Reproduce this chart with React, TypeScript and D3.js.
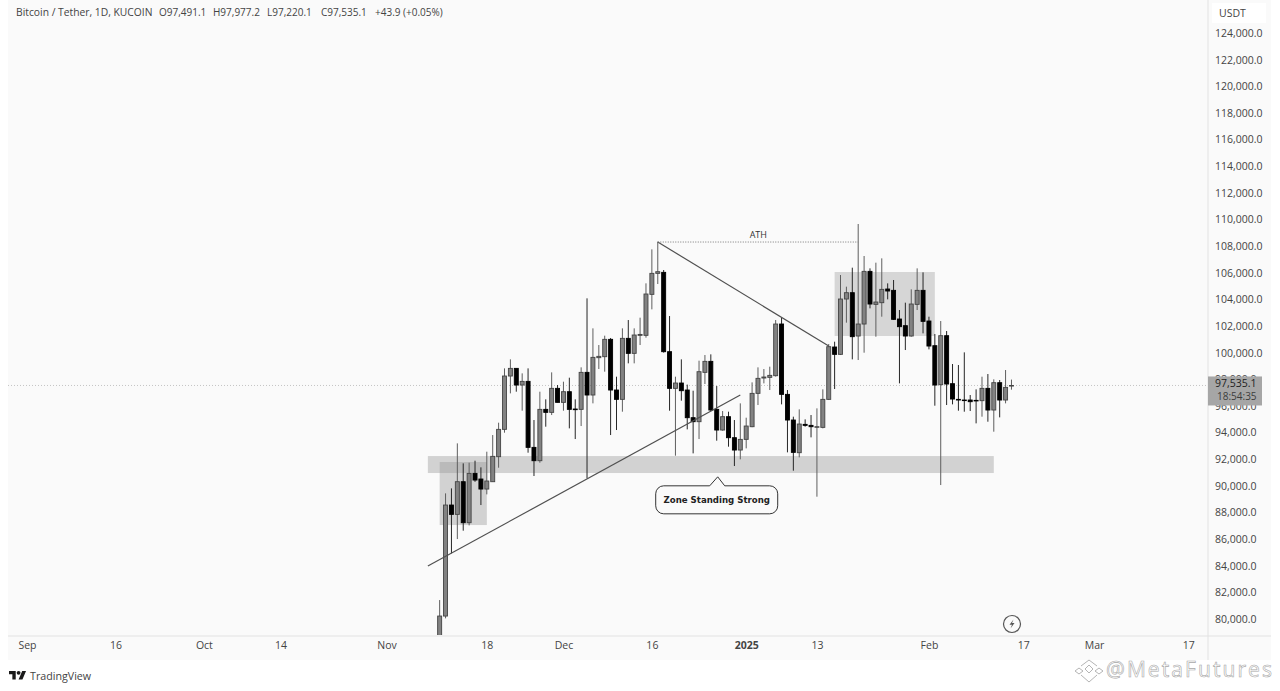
import * as d3 from "d3";
import React, { useEffect, useRef } from "react";

// daily candles, Nov 10 2024 -> Feb 15 2025
const firstCandle = new Date(Date.UTC(2024, 10, 10));
const opens = [
  77200, 80222, 88557, 87856, 90309, 87230, 90935, 90510, 89758, 90309, 92187, 94239, 98244, 98819, 97568, 97843,
  92887, 91886, 95741, 95516, 97318, 96266, 97067, 95766, 95741, 98520, 96818, 99621, 99696, 100998, 97193, 96492,
  101073, 99946, 101298, 101298, 104376, 105953, 106028, 100071, 97318, 97718, 97193, 95115, 94815, 98519, 99345,
  95741, 94189, 95191, 93613, 92687, 93488, 94439, 96942, 98094, 98144, 98269, 102149, 96867, 94940, 92487, 94614,
  94539, 94414, 94389, 96492, 100422, 99871, 104026, 104501, 101248, 102149, 106103, 103625, 103750, 104777, 104677,
  102524, 102024, 101248, 103625, 104677, 102374, 100521, 97593, 101272, 97668, 96492, 96442, 96442, 96417, 96392,
  97318, 95691, 97743, 96442, 97491,
];
const highs = [
  81423, 89433, 89808, 93188, 91686, 91736, 91886, 91386, 92562, 93813, 94740, 98819, 99495, 98819, 98444, 98819,
  94940, 97067, 96492, 98519, 97568, 97818, 98119, 96492, 98895, 104077, 101824, 100572, 101273, 101100, 98194,
  101824, 102449, 101824, 102625, 105203, 107755, 108331, 106204, 102749, 98194, 99496, 97600, 97142, 99395, 99821,
  99871, 97493, 95616, 95566, 94940, 96192, 95115, 97768, 98895, 98769, 98945, 102449, 102624, 97193, 95191, 95741,
  94990, 95316, 95816, 97243, 100647, 100822, 105828, 104952, 106379, 109658, 107255, 106329, 106754, 107079, 105202,
  105453, 103200, 103751, 104752, 106329, 106028, 102699, 101398, 102374, 101623, 99145, 99070, 100021, 96817, 97243,
  98194, 98394, 97994, 97944, 98694, 97977,
];
const lows = [
  76900, 80047, 84928, 86004, 86630, 87030, 90300, 88557, 89358, 90300, 91360, 93989, 96942, 97067, 95641, 92487,
  90735, 91736, 94439, 95315, 96266, 95641, 94314, 93513, 94489, 90560, 96192, 98770, 98570, 93813, 94189, 95566,
  99196, 99196, 100572, 101123, 103250, 105152, 100000, 95641, 92262, 96392, 94239, 92437, 93513, 97643, 95600, 93388,
  94139, 92938, 91486, 91987, 92812, 94400, 96066, 97693, 97193, 98200, 96116, 92512, 91135, 92137, 94439, 93638,
  89183, 94314, 96442, 97268, 99821, 102249, 99495, 99445, 99996, 103325, 101197, 102699, 104001, 102450, 97693,
  100196, 101197, 103200, 101448, 100246, 96016, 90059, 96066, 96116, 95641, 95566, 95616, 94689, 95191, 94814, 94064,
  95140, 96192, 97220,
];
const closes = [
  80222, 88557, 87856, 90309, 87230, 90935, 90434, 89758, 90360, 92212, 94239, 98244, 98819, 97568, 97843, 92887,
  91886, 95741, 95516, 97318, 96266, 97067, 95741, 95716, 98519, 96818, 99646, 99721, 100998, 97193, 96492, 101073,
  99946, 101323, 101368, 104402, 105953, 106078, 100071, 97318, 97718, 97142, 95115, 94815, 98569, 99345, 95691,
  94189, 95191, 93613, 92687, 93488, 94489, 96942, 98069, 98169, 98294, 102149, 96867, 94940, 92512, 94639, 94539,
  94439, 94439, 96492, 100447, 99871, 104026, 104501, 101198, 102149, 106103, 103650, 103800, 104752, 104627, 102499,
  101949, 101248, 103650, 104677, 102349, 100496, 97568, 101272, 97643, 96517, 96442, 96417, 96316, 96392, 97318,
  95691, 97743, 96442, 97393, 97535,
];

const priceTicks = d3.range(80000, 124001, 2000);
const timeTicks = [
  [2024, 8, 1, "Sep"], [2024, 8, 16, "16"], [2024, 9, 1, "Oct"], [2024, 9, 14, "14"], [2024, 10, 1, "Nov"],
  [2024, 10, 18, "18"], [2024, 11, 1, "Dec"], [2024, 11, 16, "16"], [2025, 0, 1, "2025"], [2025, 0, 13, "13"],
  [2025, 1, 1, "Feb"], [2025, 1, 17, "17"], [2025, 2, 1, "Mar"], [2025, 2, 17, "17"],
] as [number, number, number, string][];

const lastPrice = 97535.1;
const headerLabels = ["Bitcoin / Tether, 1D, KUCOIN", "O97,491.1", "H97,977.2", "L97,220.1", "C97,535.1", "+43.9 (+0.05%)"];

const FONT = "'Open Sans', 'DejaVu Sans', sans-serif";
const day = (y: number, m: number, d: number) => new Date(Date.UTC(y, m, d));

const App = () => {
  const svgRef = useRef<SVGSVGElement>(null);

  useEffect(() => {
    const svg = d3.select(svgRef.current);
    svg.selectAll("*").remove();

    const x = d3.scaleUtc().domain([day(2024, 8, 1), day(2025, 2, 1)]).range([27, 1094]);
    const y = d3.scaleLinear().domain([80000, 124000]).range([619, 33]);

    // panels
    svg.append("rect").attr("width", 1280).attr("height", 691).attr("fill", "#ffffff");
    svg.append("rect").attr("x", 8).attr("y", 0).attr("width", 1263).attr("height", 660).attr("fill", "#fafafa");

    svg.append("defs").append("clipPath").attr("id", "plot")
      .append("rect").attr("x", 8).attr("y", 0).attr("width", 1200).attr("height", 635);

    const plot = svg.append("g").attr("clip-path", "url(#plot)");

    // last price line
    plot.append("line")
      .attr("x1", 8).attr("x2", 1208)
      .attr("y1", y(lastPrice)).attr("y2", y(lastPrice))
      .attr("stroke", "#c4c4c4").attr("stroke-dasharray", "1 2");

    // zones
    const zones: [Date, Date, number, number, string][] = [
      [day(2024, 10, 8), day(2025, 1, 12), 92234, 90960, "#d2d2d2"],
      [day(2024, 10, 10), day(2024, 10, 18), 91786, 87056, "rgba(150,150,150,0.4)"],
      [day(2025, 0, 16), day(2025, 1, 2), 106054, 101248, "#d6d6d6"],
    ];
    zones.forEach(([a, b, top, bottom, fill]) => {
      plot.append("rect")
        .attr("x", x(a)).attr("width", x(b) - x(a))
        .attr("y", y(top)).attr("height", y(bottom) - y(top))
        .attr("fill", fill);
    });

    // candles
    const candles = opens.map((o, i) => ({
      date: d3.utcDay.offset(firstCandle, i),
      o,
      h: highs[i],
      l: lows[i],
      c: closes[i],
    }));

    const candle = plot.selectAll("g.candle").data(candles).enter().append("g").attr("class", "candle");
    candle.append("line")
      .attr("x1", (d) => x(d.date)).attr("x2", (d) => x(d.date))
      .attr("y1", (d) => y(d.h)).attr("y2", (d) => y(d.l))
      .attr("stroke", (d) => (d.c >= d.o ? "#5e5e5e" : "#262626"))
      .attr("stroke-width", 1);
    candle.append("rect")
      .attr("x", (d) => x(d.date) - 2)
      .attr("width", 4)
      .attr("y", (d) => y(Math.max(d.o, d.c)))
      .attr("height", (d) => Math.max(0.6, Math.abs(y(d.o) - y(d.c))))
      .attr("fill", (d) => (d.c >= d.o ? "#828282" : "#000000"))
      .attr("stroke", (d) => (d.c >= d.o ? "#444444" : "#000000"))
      .attr("stroke-width", 0.9);

    // trend lines
    const trend = d3.line<[Date, number]>().x((d) => x(d[0])).y((d) => y(d[1]));
    const trendLines: [Date, number][][] = [
      [[day(2024, 10, 8), 83976], [day(2024, 11, 31), 96817]],
      [[day(2024, 11, 17), 108306], [day(2025, 0, 15), 100497]],
    ];
    trendLines.forEach((pts) => {
      plot.append("path").attr("d", trend(pts)).attr("fill", "none").attr("stroke", "#505050").attr("stroke-width", 1.2);
    });
    plot.append("path")
      .attr("d", trend([[day(2024, 11, 17), 108306], [day(2025, 0, 20), 108306]]))
      .attr("fill", "none").attr("stroke", "#777777").attr("stroke-dasharray", "1 1.5");
    plot.append("text")
      .attr("x", x(day(2024, 11, 31)) + 18).attr("y", y(108306) - 4)
      .attr("text-anchor", "middle").attr("font-family", FONT).attr("font-size", 9).attr("fill", "#333")
      .text("ATH");

    // callout
    const cx = x(day(2024, 11, 27)) + 1;
    const cy = y(90000);
    const callout = svg.append("g").attr("transform", `translate(${cx},${cy})`);
    callout.append("path")
      .attr("d", "M-54,0 H-8 L0,-9 L7,0 H52 a8,8 0 0 1 8,8 V20 a8,8 0 0 1 -8,8 H-54 a8,8 0 0 1 -8,-8 V8 a8,8 0 0 1 8,-8 Z")
      .attr("fill", "#fafafa").attr("stroke", "#333").attr("stroke-width", 1);
    callout.append("text")
      .attr("x", -1).attr("y", 17.5)
      .attr("text-anchor", "middle").attr("font-family", "'DejaVu Sans', sans-serif").attr("font-weight", 700)
      .attr("font-size", 8.6).attr("fill", "#222")
      .text("Zone Standing Strong");

    // lightning badge
    const badge = svg.append("g").attr("transform", "translate(1012,624)");
    badge.append("circle").attr("r", 8.5).attr("fill", "none").attr("stroke", "#555").attr("stroke-width", 1.2);
    badge.append("path").attr("d", "M1.5,-4.5 L-2.5,0.8 H0 L-1.5,4.5 L2.5,-1 H0 Z").attr("fill", "#555");

    // price axis
    const yAxis = svg.append("g").attr("transform", "translate(1208,0)")
      .call(d3.axisRight(y).tickValues(priceTicks).tickSize(0).tickPadding(7)
        .tickFormat((d) => d3.format(",.1f")(d as number)));
    yAxis.select(".domain").attr("stroke", "#e2e2e2").attr("d", "M0,0 V660");
    yAxis.selectAll("text").attr("font-family", FONT).attr("font-size", 10.5).attr("fill", "#444");

    // time axis
    const xAxis = svg.append("g").attr("transform", "translate(0,636)")
      .call(d3.axisBottom(x)
        .tickValues(timeTicks.map((t) => day(t[0], t[1], t[2])))
        .tickSize(0).tickPadding(6)
        .tickFormat((_, i) => timeTicks[i][3]));
    xAxis.select(".domain").attr("stroke", "#e2e2e2").attr("d", "M8,0 H1271");
    xAxis.selectAll("text")
      .attr("font-family", FONT).attr("font-size", 10.5).attr("fill", "#444")
      .attr("font-weight", (_, i) => (timeTicks[i][3] === "2025" ? 700 : 400));

    // USDT box
    svg.append("rect").attr("x", 1212).attr("y", 3).attr("width", 54).attr("height", 20).attr("fill", "#ffffff");
    svg.append("text").attr("x", 1219).attr("y", 17).attr("font-family", FONT).attr("font-size", 10.5).attr("fill", "#444").text("USDT");

    // last price tag
    const tagTop = y(lastPrice) - 9;
    svg.append("rect").attr("x", 1208).attr("y", tagTop).attr("width", 54).attr("height", 29).attr("fill", "#a6a6a6");
    svg.append("text").attr("x", 1215).attr("y", tagTop + 11).attr("font-family", FONT).attr("font-size", 10.5).attr("fill", "#222")
      .text(d3.format(",.1f")(lastPrice));
    svg.append("text").attr("x", 1217).attr("y", tagTop + 24).attr("font-family", FONT).attr("font-size", 10).attr("fill", "#3c3c3c")
      .text("18:54:35");

    // header
    const headerX = [16, 159, 213, 267, 321, 375];
    headerLabels.forEach((t, i) => {
      svg.append("text").attr("x", headerX[i]).attr("y", 16)
        .attr("font-family", FONT).attr("font-size", i === 0 ? 10.3 : 10).attr("fill", "#444").text(t);
    });

    // footer logo
    const logo = svg.append("g").attr("transform", "translate(9,669) scale(0.48)").attr("fill", "#1a1a1a");
    logo.append("path").attr("d", "M14 22H7V11H0V4h14v18zM28 22h-8l7.5-18h8L28 22z");
    logo.append("circle").attr("cx", 20).attr("cy", 8).attr("r", 4);
    svg.append("text").attr("x", 30).attr("y", 680).attr("font-family", FONT).attr("font-size", 10.7).attr("fill", "#444").text("TradingView");

    // watermark
    const mark = svg.append("g").attr("transform", "translate(1089,671)").attr("fill", "none").attr("stroke", "#b5b5b5").attr("stroke-width", 1);
    mark.append("path").attr("d", "M-4,-2 L0,-6 L4,-2 L0,2 Z");
    mark.append("path").attr("d", "M-8,-5 L0,-11 L8,-5");
    mark.append("path").attr("d", "M-14,0 L-10,-3 L-6,0 L-10,3 Z M14,0 L10,-3 L6,0 L10,3 Z");
    mark.append("path").attr("d", "M-8,4 L0,11 L8,4");
    svg.append("text").attr("x", 1106).attr("y", 677)
      .attr("font-family", "'Open Sans', sans-serif").attr("font-size", 21)
      .attr("textLength", 166).attr("lengthAdjust", "spacing")
      .attr("fill", "#ffffff").attr("stroke", "#a8a8a8").attr("stroke-width", 0.6)
      .text("@MetaFutures");
  }, []);

  return <svg ref={svgRef} width={1280} height={691} style={{ position: "absolute", left: 0, top: 0 }}></svg>;
};

export default App;
